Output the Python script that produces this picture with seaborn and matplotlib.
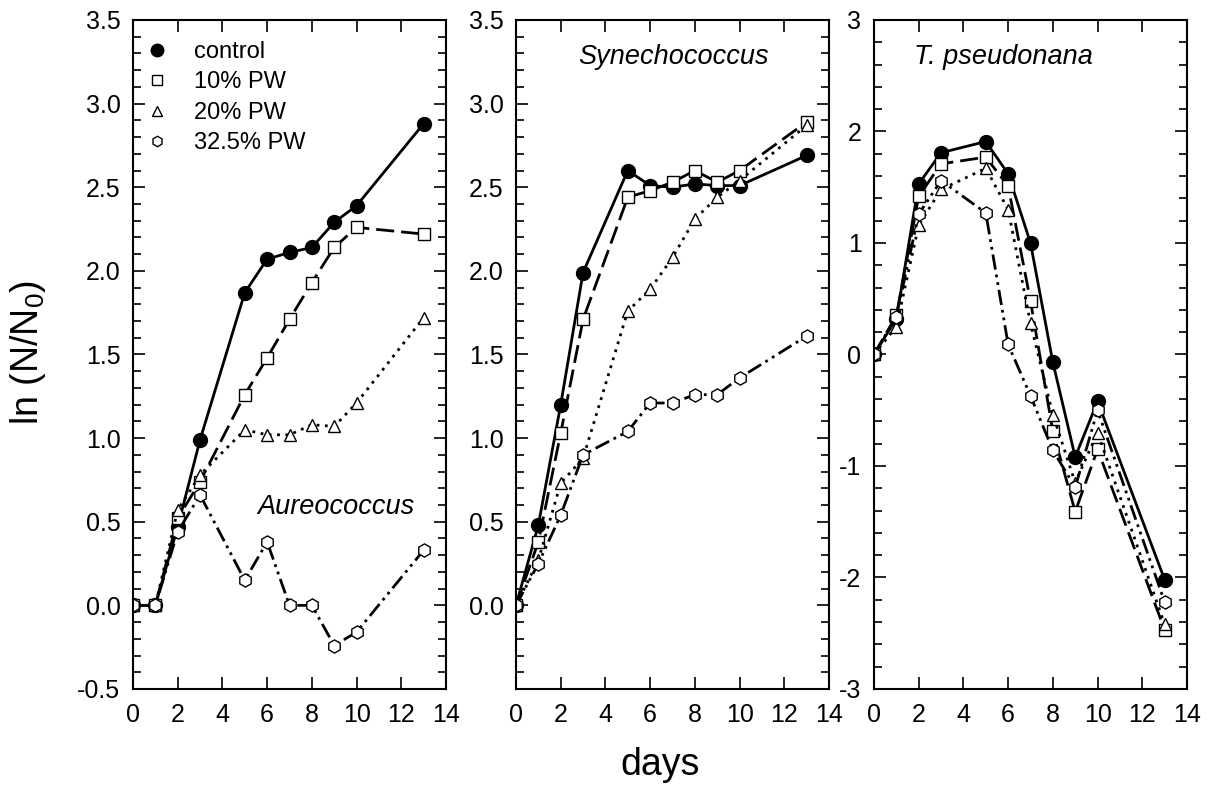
import numpy as np
import pandas as pd
import matplotlib
matplotlib.use("Agg")
import matplotlib.pyplot as plt
from matplotlib.lines import Line2D
from matplotlib.ticker import MultipleLocator
import seaborn as sns

sns.set_theme(style="white")
plt.rcParams['font.family'] = ['Liberation Sans', 'DejaVu Sans']
plt.rcParams['mathtext.fontset'] = 'custom'
plt.rcParams['mathtext.rm'] = 'Liberation Sans'
plt.rcParams['text.color'] = 'black'
plt.rcParams['axes.labelcolor'] = 'black'
plt.rcParams['xtick.color'] = 'black'
plt.rcParams['ytick.color'] = 'black'

days = [0, 1, 2, 3, 5, 6, 7, 8, 9, 10, 13]
series = ["control", "10% PW", "20% PW", "32.5% PW"]
species = ["Aureococcus", "Synechococcus", "T. pseudonana"]

# Aureococcus
aur_control = [0, 0, 0.47, 0.99, 1.87, 2.07, 2.11, 2.14, 2.29, 2.39, 2.88]
aur_10 = [0, 0, 0.52, 0.74, 1.26, 1.48, 1.71, 1.93, 2.14, 2.26, 2.22]
aur_20 = [0, 0, 0.57, 0.78, 1.05, 1.02, 1.02, 1.08, 1.07, 1.21, 1.72]
aur_32 = [0, 0, 0.44, 0.66, 0.15, 0.38, 0.0, 0.0, -0.24, -0.16, 0.33]

# Synechococcus
syn_control = [0, 0.48, 1.20, 1.99, 2.60, 2.51, 2.50, 2.52, 2.51, 2.51, 2.69]
syn_10 = [0, 0.38, 1.03, 1.71, 2.44, 2.48, 2.53, 2.60, 2.53, 2.60, 2.89]
syn_20 = [0, 0.27, 0.73, 0.88, 1.76, 1.89, 2.08, 2.31, 2.44, 2.54, 2.87]
syn_32 = [0, 0.25, 0.54, 0.90, 1.04, 1.21, 1.21, 1.26, 1.26, 1.36, 1.61]

# T. pseudonana
tps_control = [0, 0.32, 1.53, 1.81, 1.91, 1.62, 1.00, -0.07, -0.92, -0.42, -2.02]
tps_10 = [0, 0.35, 1.42, 1.71, 1.77, 1.51, 0.48, -0.69, -1.41, -0.85, -2.47]
tps_20 = [0, 0.25, 1.16, 1.48, 1.67, 1.30, 0.28, -0.54, -1.15, -0.70, -2.42]
tps_32 = [0, 0.34, 1.26, 1.56, 1.27, 0.09, -0.37, -0.86, -1.19, -0.50, -2.22]

data = {
    "Aureococcus": [aur_control, aur_10, aur_20, aur_32],
    "Synechococcus": [syn_control, syn_10, syn_20, syn_32],
    "T. pseudonana": [tps_control, tps_10, tps_20, tps_32],
}

styles = {
    "control": dict(marker="o", mfc="black", ms=10, lms=9, ls="-"),
    "10% PW": dict(marker="s", mfc="white", ms=8.5, lms=6.5, ls=(0, (6.5, 2.5))),
    "20% PW": dict(marker="^", mfc="white", ms=9, lms=7, ls=(0, (1, 2.0))),
    "32.5% PW": dict(marker="h", mfc="white", ms=9.5, lms=7.5, ls=(0, (5.5, 1.8, 1, 1.8, 1, 1.8))),
}

W, H = 1211, 800
fig = plt.figure(figsize=(W / 100, H / 100), dpi=100)
lefts = [133, 516, 874]
axw = 313
top, bot = 20, 689
TICK_FS = 18

for i, sp in enumerate(species):
    ax = fig.add_axes([lefts[i] / W, 1 - bot / H, axw / W, (bot - top) / H])
    for name, vals in zip(series, data[sp]):
        st = styles[name]
        df = pd.DataFrame({"day": days, "val": vals})
        sns.lineplot(data=df, x="day", y="val", ax=ax, color="black",
                     linewidth=2.0, linestyle=st["ls"], marker=st["marker"],
                     markersize=st["ms"], markerfacecolor=st["mfc"],
                     markeredgecolor="black", markeredgewidth=1.0,
                     legend=False)
    ax.set_xlim(0, 14)
    ax.set_xlabel("")
    ax.set_ylabel("")
    if i < 2:
        ax.set_ylim(-0.5, 3.5)
        ax.yaxis.set_minor_locator(MultipleLocator(0.1))
        start = -0.5 if i == 0 else 0.0
        yt = np.arange(start, 3.51, 0.5)
        ax.set_yticks(yt)
        ax.set_yticklabels([f"{v:.1f}" for v in yt])
    else:
        ax.set_ylim(-3, 3)
        ax.set_yticks(range(-3, 4))
        ax.set_yticklabels([str(v) for v in range(-3, 4)])
        ax.yaxis.set_minor_locator(MultipleLocator(0.2))
    ax.set_xticks(range(0, 15, 2))
    ax.set_xticklabels([str(v) for v in range(0, 15, 2)])
    ax.tick_params(axis="both", which="both", direction="in", top=True,
                   right=True, bottom=True, left=True, colors="black",
                   labelsize=TICK_FS, width=1.2)
    ax.tick_params(which="major", length=8.5)
    ax.tick_params(which="minor", length=6)
    ax.tick_params(axis="x", pad=10)
    ax.tick_params(axis="y", pad=9)
    for s in ax.spines.values():
        s.set_color("black")
        s.set_linewidth(1.5)
    ax.set_facecolor("white")

    if i == 0:
        ax.text(9.08, 0.59, sp, fontsize=19.5, style="italic", ha="center", va="center")
        handles = [Line2D([], [], color="black", linestyle="none",
                          marker=styles[n]["marker"], markersize=styles[n]["lms"],
                          markerfacecolor=styles[n]["mfc"], markeredgecolor="black",
                          markeredgewidth=1.0) for n in series]
        ax.legend(handles, series, loc="upper left", frameon=False,
                  fontsize=17, handlelength=0.8, handletextpad=1.2,
                  labelspacing=0.36, bbox_to_anchor=(0.0, 0.99),
                  borderaxespad=0.0, borderpad=0.6)
    elif i == 1:
        ax.text(7.05, 3.28, sp, fontsize=19.5, style="italic", ha="center", va="center")
    else:
        ax.text(5.77, 2.67, sp, fontsize=19.5, style="italic", ha="center", va="center")

fig.text(28 / W, 1 - 353 / H, "ln (N/N$\\mathregular{_0}$)",
         rotation=90, fontsize=27, ha="center", va="center")
fig.text(660 / W, 1 - 765 / H, "days", fontsize=27, ha="center", va="center")

fig.savefig("out.png", dpi=100, facecolor="white")
